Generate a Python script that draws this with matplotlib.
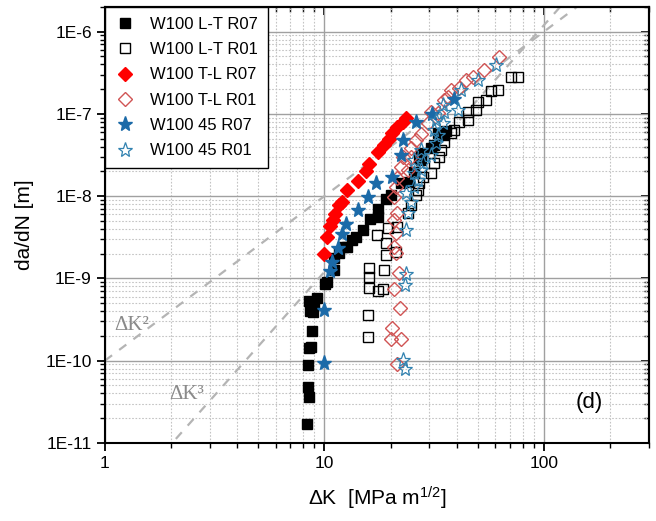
import numpy as np
import matplotlib
matplotlib.use("Agg")
import matplotlib.pyplot as plt
from matplotlib.ticker import LogLocator, NullFormatter

# W100 L-T R07
lt07_dk = [8.36, 8.37, 8.54, 8.37, 8.54, 8.72, 8.81, 8.63, 8.91, 8.54, 9.0, 9.29, 10.1, 10.3,
           11.0, 11.0, 11.6, 12.2, 12.7, 13.4, 13.9, 14.9, 16.2, 17.5, 17.6, 19.0, 20.0, 22.2,
           23.9, 25.5, 26.9, 27.4, 27.4, 30.5, 31.5, 32.8, 34.9, 35.7]
lt07_dadn = [1.71e-11, 4.82e-11, 3.64e-11, 8.9e-11, 1.44e-10, 1.48e-10, 2.32e-10, 3.96e-10,
             3.85e-10, 5.25e-10, 4.96e-10, 5.7e-10, 8.45e-10, 8.9e-10, 1.25e-9, 1.75e-9, 2.02e-9,
             2.39e-9, 2.39e-9, 2.9e-9, 3.16e-9, 3.85e-9, 5.25e-9, 5.55e-9, 6.94e-9, 9.2e-9,
             1.03e-8, 1.44e-8, 1.48e-8, 1.96e-8, 2.9e-8, 3.34e-8, 2.75e-8, 3.85e-8, 4.2e-8,
             5.86e-8, 5.55e-8, 6.2e-8]

# W100 L-T R01
lt01_dk = [15.7, 15.7, 15.9, 17.6, 18.4, 15.9, 15.9, 18.6, 19.0, 21.1, 19.0, 17.3, 19.4, 21.5,
           23.9, 24.7, 26.0, 26.6, 26.9, 28.0, 30.5, 31.5, 33.2, 33.9, 34.9, 37.6, 38.8, 40.9,
           45.0, 45.0, 48.9, 50.0, 54.3, 57.3, 61.7, 70.7, 76.1]
lt01_dadn = [1.96e-10, 3.54e-10, 7.55e-10, 6.93e-10, 7.34e-10, 1.03e-9, 1.32e-9, 1.25e-9, 1.9e-9,
             2.07e-9, 2.67e-9, 3.34e-9, 4.07e-9, 4.19e-9, 6.2e-9, 7.77e-9, 1.03e-8, 1.18e-8,
             1.44e-8, 1.71e-8, 1.91e-8, 2.52e-8, 2.99e-8, 3.64e-8, 4.56e-8, 5.86e-8, 6.38e-8,
             7.98e-8, 8.45e-8, 1.06e-7, 1.12e-7, 1.4e-7, 1.48e-7, 1.9e-7, 1.96e-7, 2.83e-7, 2.83e-7]

# W100 T-L R07
tl07_dk = [9.9, 10.3, 10.6, 10.9, 11.2, 11.6, 12.0, 12.7, 14.2, 15.4, 16.0, 17.6, 18.6, 19.6,
           20.4, 21.5, 22.7, 23.4]
tl07_dadn = [1.96e-9, 3.16e-9, 4.31e-9, 5.1e-9, 6.03e-9, 7.77e-9, 8.45e-9, 1.18e-8, 1.52e-8,
             2.02e-8, 2.46e-8, 3.44e-8, 4.19e-8, 4.96e-8, 5.86e-8, 6.93e-8, 7.98e-8, 8.93e-8]

# W100 T-L R01
tl01_dk = [21.5, 20.0, 22.2, 20.4, 22.0, 20.7, 21.8, 21.1, 20.7, 21.1, 20.7, 21.5, 20.7, 21.1,
           21.5, 22.2, 23.9, 22.9, 24.7, 24.7, 26.0, 27.4, 29.5, 30.5, 32.8, 34.9, 36.5, 37.6,
           40.9, 44.0, 47.4, 53.2, 62.3]
tl01_dadn = [9.18e-11, 1.85e-10, 1.85e-10, 2.46e-10, 4.31e-10, 7.34e-10, 1.15e-9, 2.02e-9,
             2.39e-9, 3.54e-9, 5.1e-9, 6.2e-9, 9.73e-9, 1.29e-8, 1.66e-8, 2.26e-8, 2.07e-8,
             2.99e-8, 2.99e-8, 3.85e-8, 4.82e-8, 5.7e-8, 7.76e-8, 1.06e-7, 1.03e-7, 1.48e-7,
             1.61e-7, 1.96e-7, 2.07e-7, 2.6e-7, 2.83e-7, 3.44e-7, 4.96e-7]

# W100 45 R07
s4507_dk = [10.0, 10.0, 10.6, 10.8, 11.5, 12.0, 12.5, 14.2, 15.7, 17.1, 20.4, 22.2, 22.7, 26.0,
            30.8, 38.8]
s4507_dadn = [9.46e-11, 4.07e-10, 1.22e-9, 1.57e-9, 2.32e-9, 3.44e-9, 4.56e-9, 6.75e-9, 9.73e-9,
              1.44e-8, 1.71e-8, 3.16e-8, 4.82e-8, 7.98e-8, 1.0e-7, 1.52e-7]

# W100 45 R01
s4501_dk = [23.2, 22.9, 23.2, 23.4, 23.4, 23.9, 24.7, 23.4, 25.5, 26.6, 27.4, 25.5, 28.0, 25.5,
            27.4, 30.5, 32.1, 32.8, 31.5, 34.6, 32.1, 34.9, 34.6, 40.5, 41.8, 50.0, 60.4]
s4501_dadn = [7.98e-11, 1.03e-10, 8.22e-10, 1.12e-9, 3.85e-9, 6.2e-9, 8.45e-9, 1.09e-8, 1.29e-8,
              1.57e-8, 2.07e-8, 1.91e-8, 2.52e-8, 2.75e-8, 3.64e-8, 3.16e-8, 4.43e-8, 5.55e-8,
              6.38e-8, 7.76e-8, 8.45e-8, 1.06e-7, 1.29e-7, 1.12e-7, 1.96e-7, 2.6e-7, 3.96e-7]

# reference power laws da/dN = C * dK^m
ref_exp = [2, 3]
ref_coef = [1e-10, 1.2e-12]
ref_labels = ["\u0394K\u00b2", "\u0394K\u00b3"]

xticks = [1, 10, 100]
xtick_labels = ["1", "10", "100"]
yticks = [1e-11, 1e-10, 1e-9, 1e-8, 1e-7, 1e-6]
ytick_labels = ["1E-11", "1E-10", "1E-9", "1E-8", "1E-7", "1E-6"]

plt.rcParams["font.family"] = "Liberation Sans"
plt.rcParams["mathtext.fontset"] = "custom"
plt.rcParams["mathtext.rm"] = "Liberation Sans"
plt.rcParams["mathtext.it"] = "Liberation Sans:italic"

fig = plt.figure(figsize=(6.56, 5.21), dpi=100)
ax = fig.add_axes([0.160, 0.150, 0.829, 0.837])
ax.set_xscale("log")
ax.set_yscale("log")
ax.set_xlim(1, 300)
ax.set_ylim(1e-11, 2e-6)

# dashed reference lines
dk_line = np.array([1.0, 300.0])
for m, c in zip(ref_exp, ref_coef):
    ax.plot(dk_line, c * dk_line ** m, color="#b4b4b4", lw=1.6, ls=(0, (4, 4)), zorder=2)

ax.plot(lt07_dk, lt07_dadn, ls="none", marker="s", ms=7.5, mfc="black", mec="black",
        label="W100 L-T R07", zorder=3)
ax.plot(lt01_dk, lt01_dadn, ls="none", marker="s", ms=7.5, mfc="none", mec="black", mew=1.0,
        label="W100 L-T R01", zorder=3)
ax.plot(tl07_dk, tl07_dadn, ls="none", marker="D", ms=7, mfc="#ff0000", mec="#ff0000",
        label="W100 T-L R07", zorder=3)
ax.plot(tl01_dk, tl01_dadn, ls="none", marker="D", ms=7, mfc="none", mec="#d05454", mew=1.0,
        label="W100 T-L R01", zorder=3)
ax.plot(s4507_dk, s4507_dadn, ls="none", marker="*", ms=11, mfc="#1b6aa8", mec="#1b6aa8",
        label="W100 45 R07", zorder=3)
ax.plot(s4501_dk, s4501_dadn, ls="none", marker="*", ms=11, mfc="none", mec="#3182b0", mew=0.9,
        label="W100 45 R01", zorder=3)

ax.set_xticks(xticks)
ax.set_xticklabels(xtick_labels)
ax.set_yticks(yticks)
ax.set_yticklabels(ytick_labels)
ax.xaxis.set_minor_locator(LogLocator(base=10, subs=np.arange(2, 10), numticks=20))
ax.yaxis.set_minor_locator(LogLocator(base=10, subs=np.arange(2, 10), numticks=20))
ax.xaxis.set_minor_formatter(NullFormatter())
ax.yaxis.set_minor_formatter(NullFormatter())
ax.tick_params(which="major", direction="out", length=6, width=1.3, labelsize=12.5)
ax.tick_params(which="minor", direction="out", length=3.5, width=1.0)

ax.grid(True, which="major", color="#a0a0a0", lw=1.0, ls="-")
ax.grid(True, which="minor", color="#c4c4c4", lw=0.8, ls=(0, (1.5, 1.5)))
ax.set_axisbelow(True)
for s in ax.spines.values():
    s.set_linewidth(1.5)

top = ax.secondary_xaxis("top")
top.set_xticks(xticks)
top.xaxis.set_minor_locator(LogLocator(base=10, subs=np.arange(2, 10), numticks=20))
top.tick_params(which="major", direction="in", length=6, width=1.3, labeltop=False)
top.tick_params(which="minor", direction="in", length=3.5, width=1.0)
top.xaxis.set_major_formatter(NullFormatter())
top.xaxis.set_minor_formatter(NullFormatter())
right = ax.secondary_yaxis("right")
right.set_yticks(yticks)
right.yaxis.set_minor_locator(LogLocator(base=10, subs=np.arange(2, 10), numticks=20))
right.tick_params(which="major", direction="in", length=6, width=1.3, labelright=False)
right.tick_params(which="minor", direction="in", length=3.5, width=1.0)
right.yaxis.set_major_formatter(NullFormatter())
right.yaxis.set_minor_formatter(NullFormatter())
for sec in (top, right):
    for s in sec.spines.values():
        s.set_linewidth(1.5)

ax.text(0.05, 0.268, ref_labels[0], transform=ax.transAxes, ha="center", va="center",
        fontsize=15, color="#8a8a8a", family="Liberation Serif")
ax.text(0.151, 0.110, ref_labels[1], transform=ax.transAxes, ha="center", va="center",
        fontsize=15, color="#8a8a8a", family="Liberation Serif")
ax.text(0.89, 0.092, "(d)", transform=ax.transAxes, ha="center", va="center", fontsize=16)

ax.set_xlabel("\u0394K  [MPa m$^{1/2}$]", fontsize=15, labelpad=10)
ax.set_ylabel("da/dN [m]", fontsize=15, labelpad=8)

leg = ax.legend(loc="upper left", borderaxespad=0, fontsize=12, frameon=True, fancybox=False,
                edgecolor="black", framealpha=1, handlelength=1.2, handletextpad=0.9,
                labelspacing=0.62, borderpad=0.6)
leg.get_frame().set_linewidth(1.0)
leg.set_zorder(5)

fig.savefig("out.png", dpi=100)
